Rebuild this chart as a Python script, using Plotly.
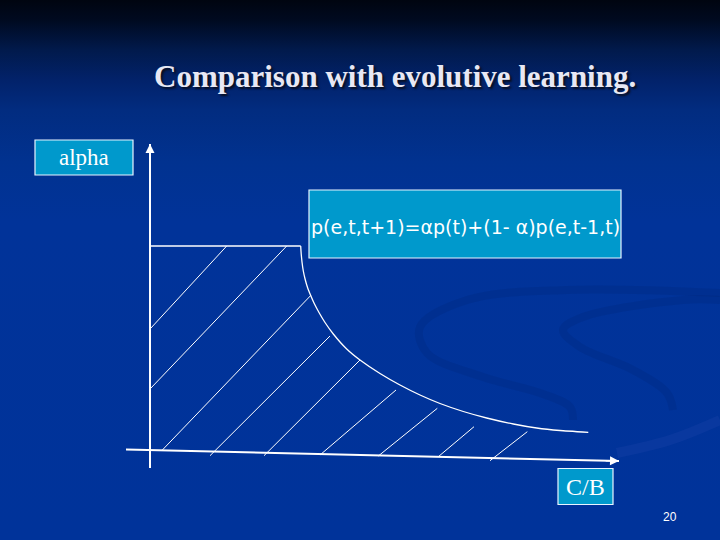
import plotly.graph_objects as go

# ---- data (units: origin at axes intersection, y upward) ----
top_cb = [0, 150.7]
top_alpha = [204, 204]

curve_cb = [150.7, 151.2, 152, 153.3, 155.2, 157.7, 160.7, 164.5, 169, 175, 183.3, 196.7, 210, 230, 250, 270, 290,
            313.3, 336.7, 363.3, 386.7, 410, 438.3]
curve_alpha = [204, 196, 188, 179, 170.5, 162, 154.5, 146, 137.5, 127.5, 116, 101, 90, 76.5, 65, 55, 46.5,
               38.5, 32, 26, 22, 19.5, 17.7]

hatch_cb_start = [0.7, 0.7, 11.7, 60, 114, 170, 228.3, 288.3, 340]
hatch_alpha_start = [121.7, 61.7, -0.7, -5.7, -5.7, -5, -6, -6.7, -10.7]
hatch_cb_end = [76.7, 136.7, 160.7, 180, 210, 246, 287.3, 324, 377.3]
hatch_alpha_end = [204, 204, 154.5, 114, 90, 60, 41.7, 23.3, 18.3]

xaxis_cb = [-24, 469]
xaxis_alpha = [0.5, -11]
yaxis_cb = [0, 0]
yaxis_alpha = [-18, 306]

title_text = "Comparison with evolutive learning."
formula_text = "p(e,t,t+1)=\u03b1p(t)+(1- \u03b1)p(e,t-1,t)"
ylabel_text = "alpha"
xlabel_text = "C/B"
page_text = "20"

# ---- figure ----
X0, X1, Y0, Y1 = -150, 570, -90, 450
WHITE = "#ffffff"
BOX = "#0099cc"

fig = go.Figure()

# background gradient
fig.add_trace(go.Scatter(
    x=[X0, X1, X1, X0, X0], y=[Y0, Y0, Y1, Y1, Y0],
    fill="toself", mode="lines", line=dict(width=0),
    fillgradient=dict(type="vertical", colorscale=[
        [0.0, "#00339a"], [0.59, "#013399"], [0.70, "#013290"],
        [0.796, "#022c80"], [0.852, "#02226a"], [0.907, "#011a4c"],
        [0.963, "#000a20"], [1.0, "#000510"]]),
    hoverinfo="skip", showlegend=False))

# subtle swirl in background
swirl_a_x = [570, 417, 317, 270, 277, 333, 390, 420, 423]
swirl_a_y = [157, 160, 150, 123, 97, 73, 57, 43, 30]
swirl_b_x = [570, 533, 433, 413, 430, 483, 517, 523]
swirl_b_y = [150, 150, 133, 120, 103, 80, 57, 40]
for sx, sy in [(swirl_a_x, swirl_a_y), (swirl_b_x, swirl_b_y)]:
    fig.add_trace(go.Scatter(x=sx, y=sy, mode="lines",
                             line=dict(color="rgba(0,25,90,0.14)", width=8, shape="spline", smoothing=1.0),
                             hoverinfo="skip", showlegend=False))
fig.add_trace(go.Scatter(x=[570, 520, 467], y=[30, 10, -3], mode="lines",
                         line=dict(color="rgba(60,90,190,0.15)", width=10, shape="spline"),
                         hoverinfo="skip", showlegend=False))

# axes lines
fig.add_trace(go.Scatter(x=xaxis_cb, y=xaxis_alpha, mode="lines",
                         line=dict(color=WHITE, width=2), hoverinfo="skip", showlegend=False))
fig.add_trace(go.Scatter(x=yaxis_cb, y=yaxis_alpha, mode="lines",
                         line=dict(color=WHITE, width=2), hoverinfo="skip", showlegend=False))

# top flat segment and curve
fig.add_trace(go.Scatter(x=top_cb, y=top_alpha, mode="lines",
                         line=dict(color=WHITE, width=1.3), hoverinfo="skip", showlegend=False))
fig.add_trace(go.Scatter(x=curve_cb, y=curve_alpha, mode="lines",
                         line=dict(color=WHITE, width=1.3, shape="spline", smoothing=0.4),
                         hoverinfo="skip", showlegend=False))

# hatch lines
hx, hy = [], []
for a, b, c, d in zip(hatch_cb_start, hatch_alpha_start, hatch_cb_end, hatch_alpha_end):
    hx += [a, c, None]
    hy += [b, d, None]
fig.add_trace(go.Scatter(x=hx, y=hy, mode="lines",
                         line=dict(color=WHITE, width=1), hoverinfo="skip", showlegend=False))

# arrowheads
for (xs, ys) in [(xaxis_cb, xaxis_alpha), (yaxis_cb, yaxis_alpha)]:
    fig.add_annotation(x=xs[1], y=ys[1], ax=xs[0] + (xs[1] - xs[0]) * 0.97, ay=ys[0] + (ys[1] - ys[0]) * 0.97,
                       xref="x", yref="y", axref="x", ayref="y", text="",
                       showarrow=True, arrowhead=2, arrowsize=1.2, arrowwidth=1.5, arrowcolor=WHITE)

# label boxes
boxes = [(-115, -17, 275, 310), (159, 471, 192, 260), (408, 463, -54.5, -18.5)]
for x0, x1, y0, y1 in boxes:
    fig.add_shape(type="rect", x0=x0, x1=x1, y0=y0, y1=y1, xref="x", yref="y",
                  fillcolor=BOX, line=dict(color="#e8f4ff", width=1.2))

serif = "Liberation Serif, Times New Roman, serif"
fig.add_annotation(x=-66, y=292.5, xref="x", yref="y", text=ylabel_text, showarrow=False,
                   font=dict(family=serif, size=23, color=WHITE))
fig.add_annotation(x=435.5, y=-37, xref="x", yref="y", text=xlabel_text, showarrow=False,
                   font=dict(family=serif, size=24, color=WHITE))
fig.add_annotation(x=315, y=223, xref="x", yref="y", text=formula_text, showarrow=False,
                   font=dict(family="DejaVu Sans, Verdana, sans-serif", size=19, color=WHITE))
fig.add_annotation(x=245, y=374, xref="x", yref="y", text="<b>" + title_text + "</b>", showarrow=False,
                   font=dict(family=serif, size=31, color="#e8e8f4", shadow="2px 2px 2px #0a0f20"))
fig.add_annotation(x=520, y=-67, xref="x", yref="y", text=page_text, showarrow=False,
                   font=dict(family="Liberation Sans, Arial, sans-serif", size=12, color=WHITE))

fig.update_layout(
    width=720, height=540, margin=dict(l=0, r=0, t=0, b=0),
    paper_bgcolor="#003399", plot_bgcolor="#003399",
    xaxis=dict(range=[X0, X1], visible=False, fixedrange=True),
    yaxis=dict(range=[Y0, Y1], visible=False, fixedrange=True),
    showlegend=False,
)

fig.write_html("out.html", config={"displayModeBar": False},
               post_script="document.body.style.margin='0';document.body.style.overflow='hidden';")
